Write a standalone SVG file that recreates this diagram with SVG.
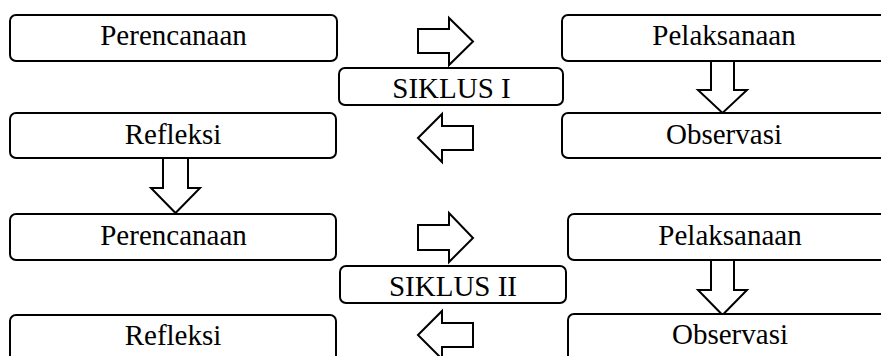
<svg xmlns="http://www.w3.org/2000/svg" width="881" height="356" viewBox="0 0 881 356">
<style>
.box{fill:#fff;stroke:#000;stroke-width:2}
.arr{fill:#fff;stroke:#000;stroke-width:2;stroke-linejoin:miter}
.t{font-size:29px;fill:#000;text-anchor:middle}
</style>
<rect width="881" height="356" fill="#fff"/>
<g id="connectors">
<polygon class="arr" points="418,29 449,29 449,18 473,41.5 449,65 449,53 418,53"/>
<polygon class="arr" points="418,138 442,114 442,126 473,126 473,150 442,150 442,162"/>
<polygon class="arr" points="711,61 734,61 734,90 747,90 722.5,113 698,90 711,90"/>
<polygon class="arr" points="163,158 188,158 188,188 200,188 175.5,213 151,188 163,188"/>
<polygon class="arr" points="418,225 449,225 449,213 473,238 449,262 449,250 418,250"/>
<polygon class="arr" points="711,260 734,260 734,290 747,290 722.5,315 698,290 711,290"/>
<polygon class="arr" points="418,335 442,311 442,323 473,323 473,347 442,347 442,359"/>
</g>
<g font-family="Liberation Serif, serif">
<g id="perencanaan1"><rect class="box" x="10" y="15" width="327" height="46" rx="6"/><text class="t" x="173.5" y="44.5">Perencanaan</text></g>
<g id="pelaksanaan1"><rect class="box" x="562" y="15" width="327" height="46" rx="6"/><text class="t" x="724" y="44.5">Pelaksanaan</text></g>
<g id="siklus1"><rect class="box" x="339" y="68" width="224" height="37" rx="6"/><text class="t" x="451.5" y="98">SIKLUS I</text></g>
<g id="refleksi1"><rect class="box" x="10" y="113" width="326" height="45" rx="6"/><text class="t" x="173" y="143.5">Refleksi</text></g>
<g id="observasi1"><rect class="box" x="562" y="113" width="327" height="45" rx="6"/><text class="t" x="724" y="143.5">Observasi</text></g>
<g id="perencanaan2"><rect class="box" x="10" y="214" width="326" height="46" rx="6"/><text class="t" x="173.5" y="245">Perencanaan</text></g>
<g id="pelaksanaan2"><rect class="box" x="568" y="214" width="327" height="46" rx="6"/><text class="t" x="730" y="244.5">Pelaksanaan</text></g>
<g id="siklus2"><rect class="box" x="340" y="266" width="226" height="37" rx="6"/><text class="t" x="453" y="295.5">SIKLUS II</text></g>
<g id="refleksi2"><rect class="box" x="10" y="315" width="326" height="50" rx="6"/><text class="t" x="173" y="345">Refleksi</text></g>
<g id="observasi2"><rect class="box" x="568" y="314" width="327" height="50" rx="6"/><text class="t" x="730" y="344">Observasi</text></g>
</g>
</svg>
